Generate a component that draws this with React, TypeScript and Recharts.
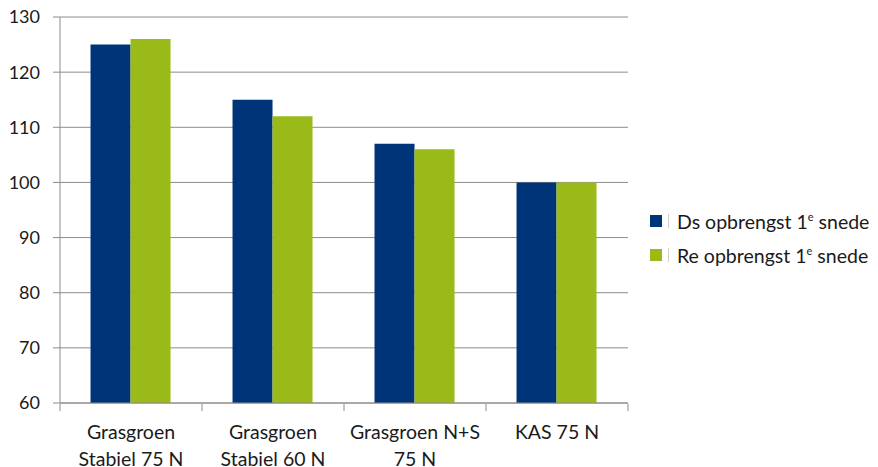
import { Bar, BarChart, CartesianGrid, XAxis, YAxis } from "recharts";

const categories = ["Grasgroen\nStabiel 75 N", "Grasgroen\nStabiel 60 N", "Grasgroen N+S\n75 N", "KAS 75 N"];
const dsValues = [125, 115, 107, 100];
const reValues = [126, 112, 106, 100];
const yTicks = [60, 70, 80, 90, 100, 110, 120, 130];
const seriesNames = ["Ds opbrengst 1", "Re opbrengst 1"];

const BLUE = "#003479";
const GREEN = "#9aba1a";
const GRID = "#8c8c8c";
const FONT = "Lato, 'Open Sans', sans-serif";

const data = categories.map((name, i) => ({ name, ds: dsValues[i], re: reValues[i] }));

function CategoryTick(props: any) {
  const { x, y, payload, width, index } = props;
  const half = width / (categories.length * 2);
  const lines = String(payload.value).split("\n");
  const top = y - 7;
  return (
    <g>
      <line x1={x - half} x2={x - half} y1={top} y2={top + 7} stroke={GRID} />
      {index === categories.length - 1 && (
        <line x1={x + half} x2={x + half} y1={top} y2={top + 7} stroke={GRID} />
      )}
      <text x={x} y={top} textAnchor="middle" fill="#1a1a1a" fontSize={19.5} fontFamily={FONT}>
        {lines.map((line, i) => (
          <tspan key={i} x={x} dy={i === 0 ? 35 : 27}>
            {line}
          </tspan>
        ))}
      </text>
    </g>
  );
}

function LegendBox() {
  const colors = [BLUE, GREEN];
  return (
    <div style={{ position: "absolute", left: 650, top: 204, fontFamily: FONT, fontSize: 19.5, color: "#1a1a1a" }}>
      {seriesNames.map((name, i) => (
        <div key={name} style={{ display: "flex", alignItems: "center", height: 34 }}>
          <span style={{ width: 12, height: 12, background: colors[i], display: "inline-block" }} />
          <span style={{ width: 1, height: 14, background: "#cfcfcf", display: "inline-block", marginLeft: 6 }} />
          <span style={{ marginLeft: 8, whiteSpace: "nowrap" }}>
            {name}
            <sup style={{ fontSize: 11, verticalAlign: 8 }}>e</sup> snede
          </span>
        </div>
      ))}
    </div>
  );
}

export default function App() {
  return (
    <div style={{ position: "absolute", left: 0, top: 0, width: 878, height: 467, background: "#fff" }}>
      <BarChart
        width={878}
        height={467}
        data={data}
        margin={{ top: 17, right: 250, bottom: 0, left: 0 }}
        barCategoryGap="21.5%"
        barGap={0}
      >
        <CartesianGrid vertical={false} stroke={GRID} />
        <XAxis
          dataKey="name"
          height={64}
          interval={0}
          tickLine={false}
          axisLine={{ stroke: GRID }}
          tick={<CategoryTick />}
        />
        <YAxis
          domain={[60, 130]}
          ticks={yTicks}
          width={60}
          tickSize={7}
          tickMargin={13}
          axisLine={{ stroke: GRID }}
          tickLine={{ stroke: GRID }}
          tick={{ fill: "#1a1a1a", fontSize: 18, fontFamily: FONT }}
        />
        <Bar dataKey="ds" name="Ds opbrengst 1e snede" fill={BLUE} isAnimationActive={false} />
        <Bar dataKey="re" name="Re opbrengst 1e snede" fill={GREEN} isAnimationActive={false} />
      </BarChart>
      <LegendBox />
    </div>
  );
}
